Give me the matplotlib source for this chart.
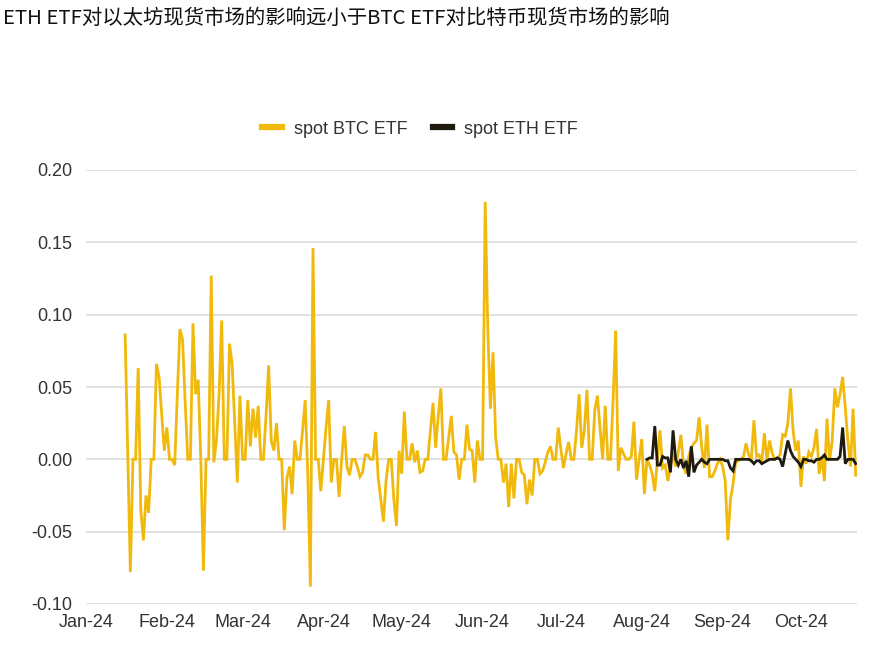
import matplotlib
matplotlib.use("Agg")
import matplotlib.pyplot as plt
from matplotlib.lines import Line2D
import pandas as pd

title = "ETH ETF对以太坊现货市场的影响远小于BTC ETF对比特币现货市场的影响"
y_label = "Normalized Volume"
series_names = ["spot BTC ETF", "spot ETH ETF"]

btc_start = "2024-01-16"
btc_values = [
    0.086, 0.004, -0.078, 0, 0,
    0.063, -0.035, -0.056, -0.025, -0.037, 0, 0,
    0.066, 0.057, 0.032, 0.006, 0.022, 0, 0,
    -0.004, 0.045, 0.090, 0.083, 0.040, 0, 0,
    0.094, 0.045, 0.055, 0.0, -0.077, 0, 0,
    0.127, -0.002, 0.013, 0.045, 0.096, 0, 0,
    0.080, 0.066, 0.025, -0.016, 0.044, 0, 0,
    0.041, 0.009, 0.035, 0.015, 0.037, 0, 0,
    0.030, 0.065, 0.013, 0.006, 0.025, 0, 0,
    -0.049, -0.013, -0.005, -0.024, 0.013, 0, 0,
    0.020, 0.041, -0.010, -0.088, 0.146, 0, 0,
    -0.022, 0.0, 0.022, 0.041, -0.016, 0, 0,
    -0.026, 0.0, 0.023, -0.005, -0.011, 0, 0,
    -0.005, -0.012, -0.009, 0.003, 0.003, 0, 0,
    0.019, -0.013, -0.028, -0.043, -0.015, 0, 0,
    -0.028, -0.046, 0.006, -0.010, 0.033, 0, 0,
    0.011, -0.002, 0.006, -0.009, -0.008, 0, 0,
    0.020, 0.039, 0.008, 0.030, 0.049, 0, 0,
    0.015, 0.030, 0.005, 0.003, -0.014, 0, 0,
    0.024, 0.007, 0.006, -0.016, 0.013, 0, 0,
    0.178, 0.090, 0.035, 0.074, 0.015, 0, 0,
    -0.016, -0.003, -0.033, -0.003, -0.027, 0, 0,
    -0.009, -0.011, -0.031, -0.014, -0.025, 0, 0,
    -0.010, -0.008, -0.002, 0.005, 0.009, 0, 0,
    0.022, 0.007, -0.006, 0.004, 0.012, 0, 0,
    0.020, 0.045, 0.008, 0.020, 0.048, 0, 0,
    0.034, 0.044, 0.022, 0.0, 0.037, 0, 0,
    0.040, 0.089, -0.008, 0.008, 0.004,
    0, 0, 0.002, 0.026, -0.014, 0.0, 0.014, -0.024, 0.0, -0.004,
    -0.010, -0.022, 0.0, 0.020, -0.006, -0.004, -0.015, -0.005, 0.004, -0.005,
    0.005, 0.017, -0.005, -0.010, 0.002, 0.008, 0.011, 0.013, 0.029, 0.008,
    -0.006, 0.024, -0.012, -0.012, -0.008, -0.003, 0.0, -0.005, -0.015, -0.056,
    -0.028, -0.017, -0.002, -0.001, 0.0, 0.002, 0.011, 0.003, 0.0, 0.027,
    0.002, 0.003, -0.002, 0.018, -0.001, 0.013, 0.004, 0.0, 0.001, 0.003,
    0.017, 0.016, 0.025, 0.049, 0.020, 0.006, 0.013, -0.019, 0.002, -0.003,
    0.005, 0.002, 0.008, 0.021, -0.010, 0.002, -0.015, 0.028, -0.001, 0.013,
    0.049, 0.036, 0.045, 0.057, 0.036, 0.013, -0.005, 0.035, -0.011,
]

eth_start = "2024-08-03"
eth_values = [
    0.0, 0.001, 0.001, 0.023, -0.004, -0.004, 0.002, 0.001, 0.001, -0.009,
    0.020, 0.0, -0.004, 0.0, -0.006, -0.001, -0.012, 0.009, -0.009, -0.004,
    -0.002, 0.0, -0.002, -0.003, 0.0, 0.0, 0.0, 0.0, 0.0, 0.0,
    -0.001, -0.001, -0.006, -0.008, 0.0, 0.0, 0.0, 0.0, 0.0, 0.0,
    -0.001, -0.003, -0.001, -0.001, -0.003, -0.002, -0.001, 0.0, 0.0, 0.0,
    0.001, 0.0, -0.005, 0.004, 0.013, 0.006, 0.002, 0.0, -0.002, -0.005,
    0.0, 0.0, -0.001, -0.001, -0.002, 0.0, 0.0, 0.001, 0.003, 0.0,
    0.0, 0.0, 0.0, 0.0, 0.002, 0.022, -0.003, 0.0, 0.0, 0.0,
    -0.003,
]

tick_dates = ["2024-01-01", "2024-02-01", "2024-03-01", "2024-04-01", "2024-05-01",
              "2024-06-01", "2024-07-01", "2024-08-01", "2024-09-01", "2024-10-01"]
tick_labels = ["Jan-24", "Feb-24", "Mar-24", "Apr-24", "May-24",
               "Jun-24", "Jul-24", "Aug-24", "Sep-24", "Oct-24"]
y_ticks = [-0.10, -0.05, 0.00, 0.05, 0.10, 0.15, 0.20]

btc_color = "#F0B90B"
eth_color = "#1E1A0E"
text_color = "#333333"
latin = "Liberation Sans"

btc_dates = pd.date_range(btc_start, periods=len(btc_values), freq="D")
eth_dates = pd.date_range(eth_start, periods=len(eth_values), freq="D")

fig = plt.figure(figsize=(8.88, 6.58), dpi=100)
ax = fig.add_axes([86 / 888, 1 - 604 / 658, (857 - 86) / 888, (604 - 170) / 658])

ax.plot(btc_dates, btc_values, color=btc_color, lw=2.0, solid_joinstyle="miter", zorder=3)
ax.plot(eth_dates, eth_values, color=eth_color, lw=2.0, solid_joinstyle="miter", zorder=4)

ax.set_ylim(-0.10, 0.20)
ax.set_yticks(y_ticks)
ax.set_yticklabels([f"{v:.2f}" for v in y_ticks])
ax.set_xlim(pd.Timestamp("2024-01-01"), pd.Timestamp("2024-01-01") + pd.Timedelta(days=295.5))
ax.set_xticks(pd.to_datetime(tick_dates))
ax.set_xticklabels(tick_labels)

ax.grid(axis="y", color="#d9d9d9", lw=1.1, zorder=0)
ax.grid(axis="x", visible=False)
for s in ax.spines.values():
    s.set_visible(False)
ax.tick_params(axis="both", length=0, labelsize=13, labelcolor=text_color)
ax.tick_params(axis="y", pad=10)
ax.tick_params(axis="x", pad=7)
for lab in ax.get_xticklabels() + ax.get_yticklabels():
    lab.set_fontfamily(latin)

fig.text(3 / 888, 1 - 398 / 658, y_label, rotation=90, ha="right", va="center",
         fontsize=13, color=text_color, family=latin)

fig.text(3 / 888, 1 - 18 / 658, title, ha="left", va="center", fontsize=14.7,
         color="#111111", family=["Noto Sans CJK SC", "DejaVu Sans"])

handles = [Line2D([0], [0], color=btc_color, lw=4.5),
           Line2D([0], [0], color=eth_color, lw=4.5)]
fig.legend(handles, series_names, loc="center", bbox_to_anchor=(420 / 888, 1 - 129 / 658),
           ncol=2, frameon=False, handlelength=1.1, handletextpad=0.65, columnspacing=1.4,
           prop={"family": latin, "size": 13}, labelcolor=text_color)

fig.savefig("out.png", dpi=100)
